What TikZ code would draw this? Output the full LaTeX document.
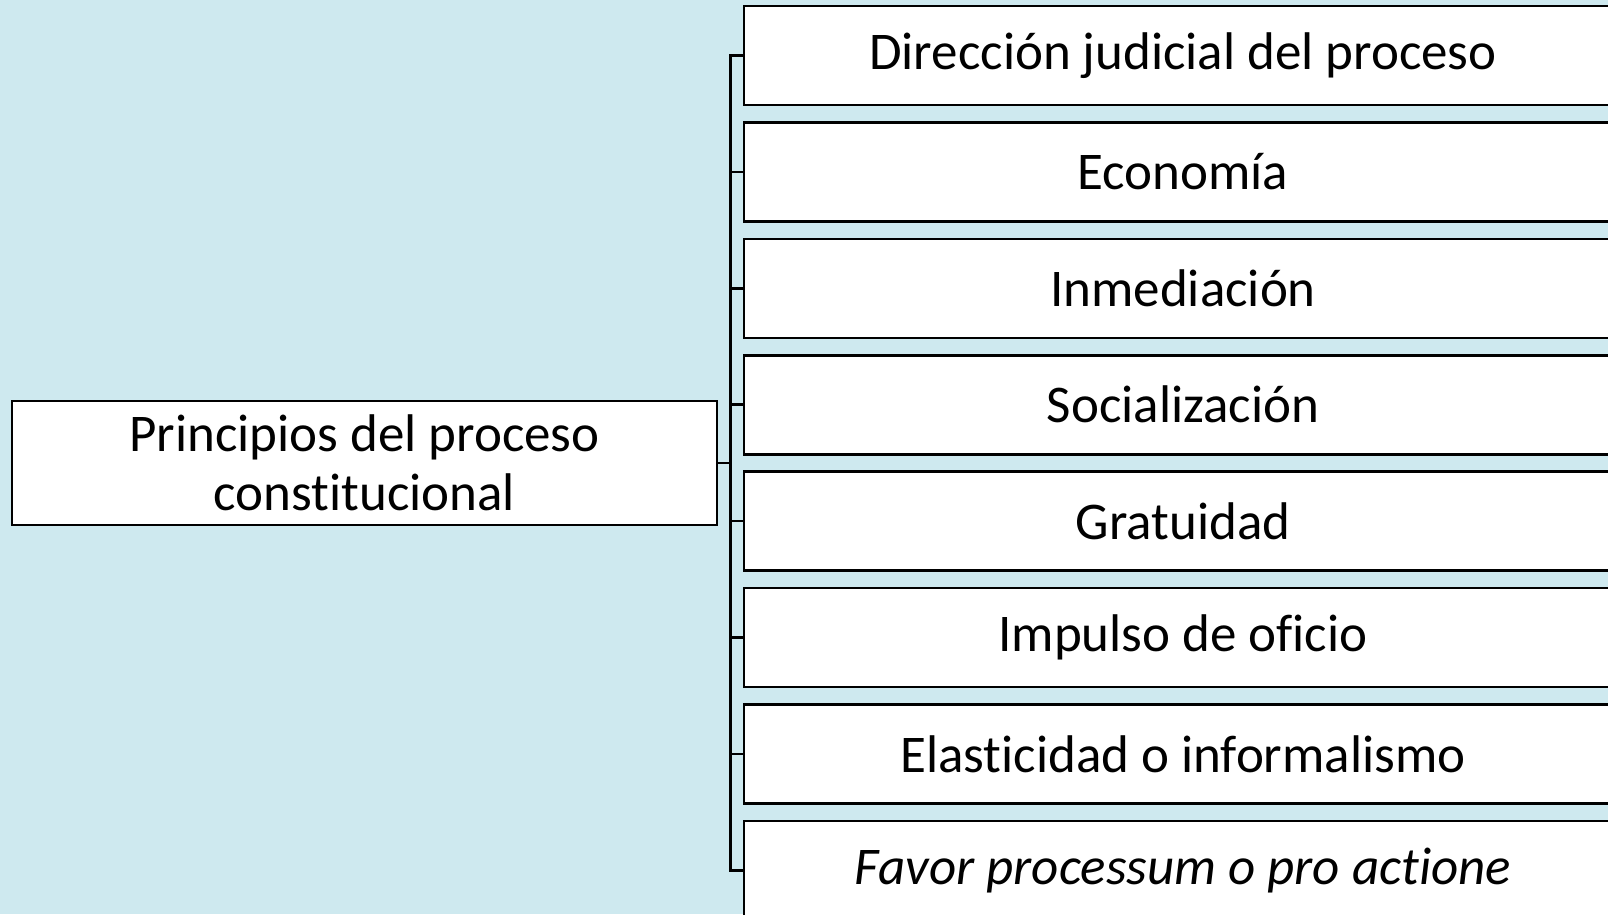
\documentclass[tikz,border=0pt]{standalone}
\usepackage{fontspec}
\setmainfont{Carlito}[Ligatures=NoCommon]
\usetikzlibrary{positioning, calc}
\definecolor{dropblue}{RGB}{206, 233, 239}

\begin{document}
\begin{tikzpicture}[x=1pt, y=-1pt,
  pbox/.style={draw=black, line width=2.6pt, fill=white, inner sep=0pt,
    minimum width=878pt, minimum height=99pt, font=\fontsize{53}{60}\selectfont},
  mainbox/.style={draw=black, line width=2.6pt, fill=white, inner sep=0pt,
    minimum width=705pt, minimum height=124pt, align=center,
    font=\fontsize{53}{59}\selectfont},
  link/.style={draw=black, line width=2.6pt}]
% Background
\fill[dropblue] (0,0) rectangle (1608,914);
\clip (0,0) rectangle (1608,914);
% Principles
\node[pbox] (dir) at (1183,55.5) {Dirección judicial del proceso};
\node[pbox] (eco) at (1183,171.9) {Economía};
\node[pbox] (inm) at (1183,288.3) {Inmediación};
\node[pbox] (soc) at (1183,404.7) {Socialización};
\node[pbox] (gra) at (1183,521.1) {Gratuidad};
\node[pbox] (imp) at (1183,637.5) {Impulso de oficio};
\node[pbox] (ela) at (1183,753.9) {Elasticidad o informalismo};
\node[pbox] (fav) at (1183,870.3) {\itshape Favor processum o pro actione};
% Root
\node[mainbox] (root) at (364.5,463) {Principios del proceso\\constitucional};
% Bracket
\coordinate (spine) at ($(dir.west)+(-12,0)$);
\draw[link] (dir.west) -- (spine) |- (fav.west);
\draw[link] (root.east) -- (spine |- root.east);
\draw[link] (spine |- eco.west) -- (eco.west);
\draw[link] (spine |- inm.west) -- (inm.west);
\draw[link] (spine |- soc.west) -- (soc.west);
\draw[link] (spine |- gra.west) -- (gra.west);
\draw[link] (spine |- imp.west) -- (imp.west);
\draw[link] (spine |- ela.west) -- (ela.west);
\end{tikzpicture}
\end{document}
